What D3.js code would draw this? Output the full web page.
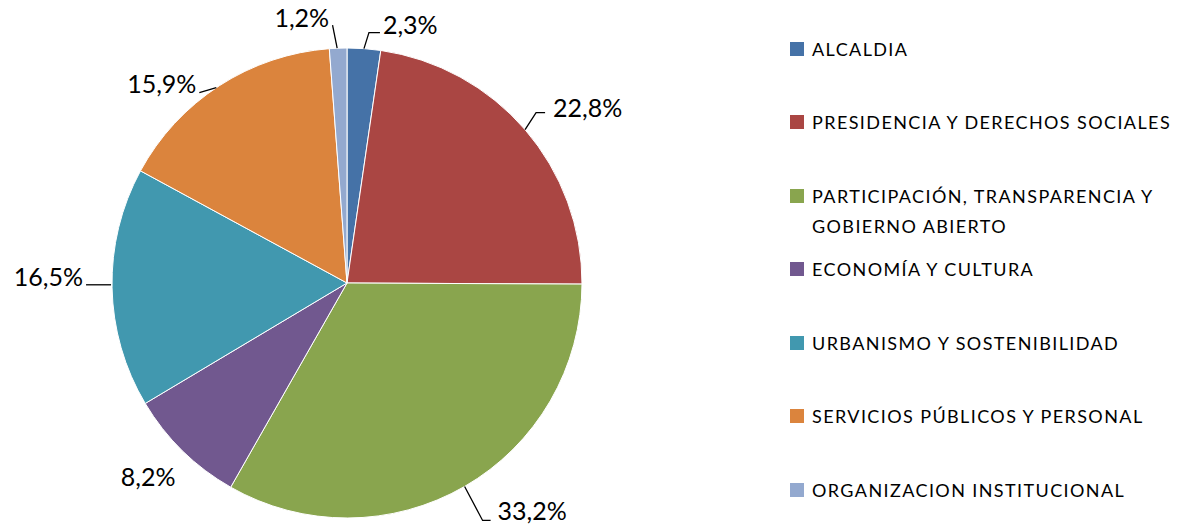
<!DOCTYPE html>
<html>
<head>
<meta charset="utf-8">
<script src="https://cdn.jsdelivr.net/npm/d3@7"></script>
<style>
  html, body { margin: 0; padding: 0; background: #fff; }
  svg { display: block; }
  text { font-family: Lato, "Open Sans", sans-serif; fill: #000; }
</style>
</head>
<body>
<svg id="chart" width="1183" height="531"></svg>
<script>
// ---- data ----
const categories = [
  "ALCALDIA",
  "PRESIDENCIA Y DERECHOS SOCIALES",
  "PARTICIPACIÓN, TRANSPARENCIA Y GOBIERNO ABIERTO",
  "ECONOMÍA Y CULTURA",
  "URBANISMO Y SOSTENIBILIDAD",
  "SERVICIOS PÚBLICOS Y PERSONAL",
  "ORGANIZACION INSTITUCIONAL"
];
const legendLines = [
  ["ALCALDIA"],
  ["PRESIDENCIA Y DERECHOS SOCIALES"],
  ["PARTICIPACIÓN, TRANSPARENCIA Y", "GOBIERNO ABIERTO"],
  ["ECONOMÍA Y CULTURA"],
  ["URBANISMO Y SOSTENIBILIDAD"],
  ["SERVICIOS PÚBLICOS Y PERSONAL"],
  ["ORGANIZACION INSTITUCIONAL"]
];
const values = [2.3, 22.8, 33.2, 8.2, 16.5, 15.9, 1.2];
const valueLabels = ["2,3%", "22,8%", "33,2%", "8,2%", "16,5%", "15,9%", "1,2%"];
const colors = ["#4572A7", "#AA4643", "#89A54E", "#71588F", "#4198AF", "#DB843D", "#93A9CF"];

// ---- layout (label placement relative to slice edge point) ----
const labelLayout = [
  { line: [[0,0],[5,-16],[16,-16]], tx: 19, ty: -15, anchor: "start" },
  { line: [[0,0],[11,-17],[20,-17]], tx: 28, ty: -13, anchor: "start" },
  { line: [[0,0],[18,34],[26,34]], tx: 33, ty: 34, anchor: "start" },
  { line: null, tx: -7, ty: 35, anchor: "end" },
  { line: [[-1,-3],[-26,-3]], tx: -29, ty: -2, anchor: "end" },
  { line: [[-3,2],[-20,7]], tx: -23, ty: 7, anchor: "end" },
  { line: [[-1,0],[-5.6,-23]], tx: -9, ty: -21, anchor: "end" }
];

const svg = d3.select("#chart");
const cx = 347, cy = 283, R = 235;

const pie = d3.pie().sort(null).value(d => d);
const arcs = pie(values);
const arc = d3.arc().innerRadius(0).outerRadius(R);
const color = d3.scaleOrdinal().domain(d3.range(values.length)).range(colors);

const g = svg.append("g").attr("transform", `translate(${cx},${cy})`);
g.selectAll("path.slice")
  .data(arcs)
  .enter().append("path")
  .attr("class", "slice")
  .attr("d", arc)
  .attr("fill", (d, i) => color(i))
  .attr("stroke", "#fff")
  .attr("stroke-width", 1);

// labels
arcs.forEach((d, i) => {
  const a = (d.startAngle + d.endAngle) / 2;
  const ex = R * Math.sin(a), ey = -R * Math.cos(a);
  const L = labelLayout[i];
  if (L.line) {
    g.append("path")
      .attr("d", d3.line()(L.line.map(p => [ex + p[0], ey + p[1]])))
      .attr("fill", "none")
      .attr("stroke", "#000")
      .attr("stroke-width", 1.3);
  }
  g.append("text")
    .attr("x", ex + L.tx)
    .attr("y", ey + L.ty)
    .attr("text-anchor", L.anchor)
    .style("font-size", "25px")
    .text(valueLabels[i]);
});

// legend
const legendY = [49, 122, 196, 269, 343, 416, 490];
const lg = svg.append("g");
legendLines.forEach((lines, i) => {
  const y = legendY[i];
  lg.append("rect")
    .attr("x", 790).attr("y", y - 7)
    .attr("width", 14).attr("height", 14)
    .attr("fill", colors[i]);
  lines.forEach((t, j) => {
    lg.append("text")
      .attr("x", 812)
      .attr("y", y + 6.5 + j * 30)
      .style("font-size", "18px")
      .style("letter-spacing", "1.4px")
      .text(t);
  });
});
</script>
</body>
</html>
